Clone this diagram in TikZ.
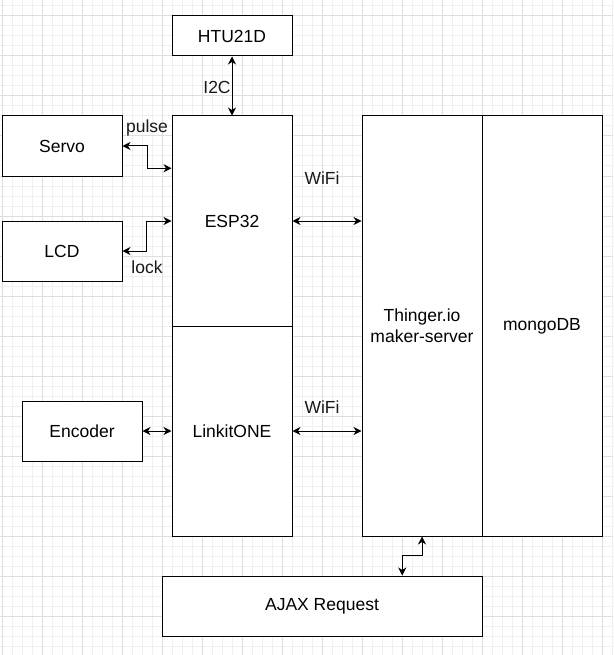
\documentclass[tikz,border=0pt]{standalone}
\usepackage{fontspec}
\setmainfont{Liberation Sans}
\usetikzlibrary{arrows.meta,calc}
\definecolor{gridminor}{HTML}{F0F0F0}
\definecolor{gridmajor}{HTML}{DEDEDE}
\tikzset{
  box/.style={draw=black,line width=1pt,fill=white,rectangle,inner sep=0pt,font=\fontsize{17.5}{21}\selectfont,align=center},
  lbl/.style={font=\fontsize{17.5}{21}\selectfont,inner sep=0pt,text=black!90},
  arr/.style={line width=1pt,{Stealth[length=8pt,width=8pt,inset=2.5pt]}-{Stealth[length=8pt,width=8pt,inset=2.5pt]}},
}
\begin{document}
\begin{tikzpicture}[x=1pt,y=-1pt]
\useasboundingbox (0,0) rectangle (613,655);
\fill[white] (0,0) rectangle (613,655);
% grid
\foreach \gx in {2,12,...,612} \draw[gridminor,line width=1pt] (\gx,0) -- (\gx,655);
\foreach \gy in {6,16,...,655} \draw[gridminor,line width=1pt] (0,\gy) -- (613,\gy);
\foreach \gx in {2,42,...,612} \draw[gridmajor,line width=1pt] (\gx,0) -- (\gx,655);
\foreach \gy in {16,56,...,655} \draw[gridmajor,line width=1pt] (0,\gy) -- (613,\gy);
% boxes
\node[box,minimum width=120pt,minimum height=40pt] (htu) at (232,36) {HTU21D};
\node[box,minimum width=120pt,minimum height=210pt] (esp) at (232,221) {ESP32};
\node[box,minimum width=120pt,minimum height=210pt] (lin) at (232,431) {LinkitONE};
\node[box,minimum width=120pt,minimum height=60pt] (servo) at (62,146) {Servo};
\node[box,minimum width=120pt,minimum height=60pt] (lcd) at (62,251) {LCD};
\node[box,minimum width=120pt,minimum height=60pt] (enc) at (82,431) {Encoder};
\node[box,minimum width=120pt,minimum height=420pt] (thi) at (422,326) {Thinger.io\\maker-server};
\node[box,minimum width=120pt,minimum height=420pt] (mon) at (542,326) {mongoDB};
\node[box,minimum width=320pt,minimum height=60pt] (ajax) at (322,606) {AJAX Request};
% connectors
\draw[arr] (htu.south) -- (esp.north);
\coordinate (espin) at ($(esp.north west)!0.25!(esp.south west)$);
\draw[arr] (servo.east) -- ++(25,0) |- (espin);
\draw[arr] (esp.west) -- ++(-25,0) |- (lcd.east);
\draw[arr] (enc.east) -- (lin.west);
\draw[arr] (esp.east) -- (esp.east -| thi.west);
\draw[arr] (lin.east) -- (lin.east -| thi.west);
\coordinate (ajaxtop) at ($(ajax.north west)!0.75!(ajax.north east)$);
\draw[arr] (ajaxtop) -- ++(0,-20) -| (thi.south);
% labels
\node[lbl] (lpulse) at (147,128) {pulse};
\node[lbl] (llock) at (147,267) {lock};
\node[lbl] (li2c) at (217,87) {I2C};
\node[lbl] (lwifi1) at (322,178) {WiFi};
\node[lbl] (lwifi2) at (322,407) {WiFi};
\end{tikzpicture}
\end{document}
